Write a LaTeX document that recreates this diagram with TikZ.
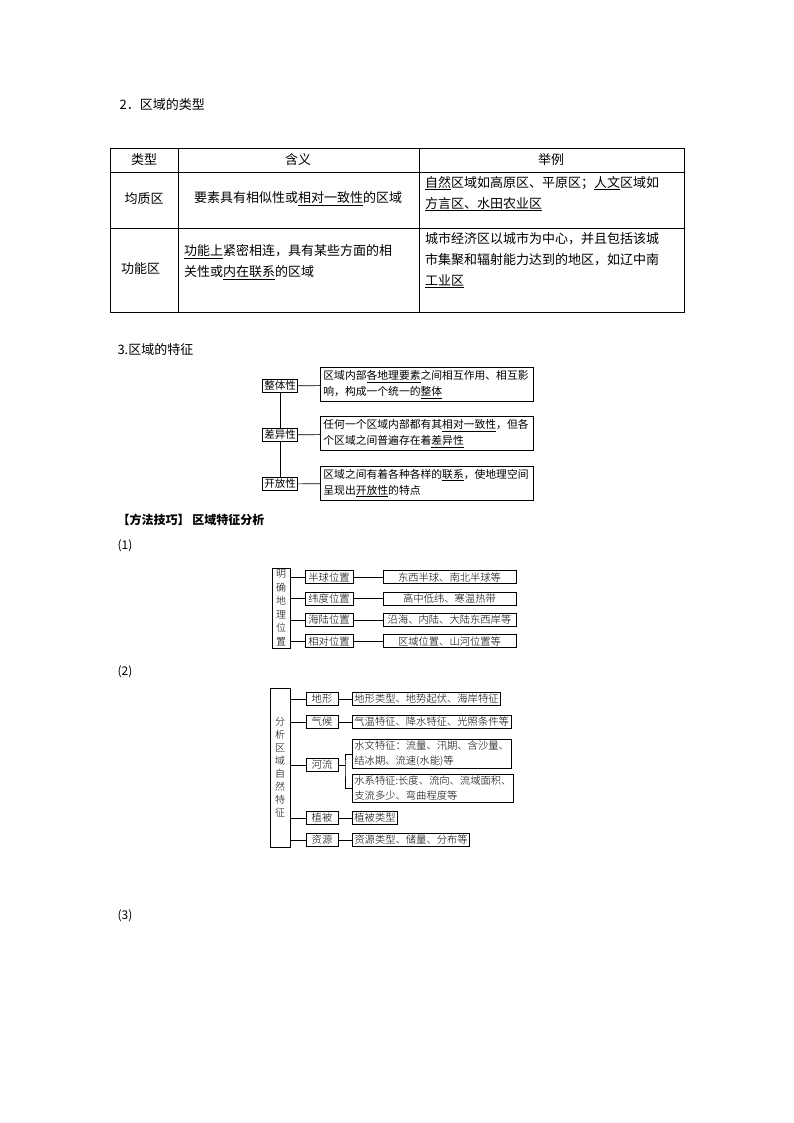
\documentclass[tikz,border=0pt]{standalone}
\usepackage{fontspec}
\setmainfont{Noto Sans CJK SC}
\newfontfamily\songti{Noto Sans CJK SC Light}
\usetikzlibrary{positioning}
\newcommand{\ul}[1]{\underline{#1}}
\tikzset{
    cell/.style={inner sep=0pt, anchor=north west, align=left, font=\fontsize{13}{21}\selectfont},
    kbox/.style={draw=black, line width=0.8pt, inner sep=1.5pt, font=\fontsize{10.5}{14}\selectfont},
    tbox/.style={draw=black, line width=0.8pt, inner sep=3pt, text width=207pt, anchor=west, align=left, font=\fontsize{10.8}{16}\selectfont},
    mbox/.style={draw=black, line width=0.8pt, inner sep=1pt, minimum height=13pt, font=\songti\fontsize{10.3}{12}\selectfont},
    link/.style={draw=black, line width=0.7pt},
}
\begin{document}
\begin{tikzpicture}[x=1pt,y=-1pt]
        \useasboundingbox (0,0) rectangle (794,1123);

        % heading and table
        \node[anchor=west, font=\fontsize{13}{15}\selectfont] (h2) at (116,105) {2．区域的类型};
        \draw [line width=0.8pt] (110,148) rectangle (684,312);
        \foreach \y in {172,228} {
            \draw [line width=0.6pt] (110,\y) -- (684,\y);
        }
        \foreach \x in {178,419} {
            \draw [line width=0.6pt] (\x,148) -- (\x,312);
        }
        \node[font=\fontsize{13}{15}\selectfont] (t11) at (144,160) {类型};
        \node[font=\fontsize{13}{15}\selectfont] (t12) at (298,160) {含义};
        \node[font=\fontsize{13}{15}\selectfont] (t13) at (551,160) {举例};
        \node[font=\fontsize{13}{15}\selectfont] (t21) at (144,199) {均质区};
        \node[font=\fontsize{13}{15}\selectfont] (t22) at (298,199) {要素具有相似性或\ul{相对一致性}的区域};
        \node[cell] (t23) at (425,176) {\ul{自然}区域如高原区、平原区；\ul{人文}区域如\\\ul{方言区、水田农业区}};
        \node[cell] (t31) at (121,262) {功能区};
        \node[cell] (t32) at (184,244) {\ul{功能上}紧密相连，具有某些方面的相\\关性或\ul{内在联系}的区域};
        \node[cell] (t33) at (425,232) {城市经济区以城市为中心，并且包括该城\\市集聚和辐射能力达到的地区，如辽中南\\\ul{工业区}};

        % 3. region features
        \node[anchor=west, font=\fontsize{13}{15}\selectfont] (h3) at (114,350) {3.区域的特征};
        \node[kbox] (zt) at (280,386) {整体性};
        \node[kbox] (cy) at (280,435) {差异性};
        \node[kbox] (kf) at (280,484) {开放性};
        \node[tbox] (ztx) at (320,384.5) {区域内部\ul{各地理要素}之间相互作用、相互影\\响，构成一个统一的\ul{整体}};
        \node[tbox] (cyx) at (320,433.5) {任何一个区域内部都有其\ul{相对一致性}，但各\\个区域之间普遍存在着\ul{差异性}};
        \node[tbox] (kfx) at (320,483) {区域之间有着各种各样的\ul{联系}，使地理空间\\呈现出\ul{开放性}的特点};
        \draw [link] (zt) -- (cy) -- (kf);
        \foreach \a in {zt,cy,kf} {
            \draw [link] (\a) -- (\a x);
        }

        % method
        \node[anchor=west, font=\bfseries\fontsize{12}{14}\selectfont] (h4) at (114,520) {【方法技巧】 区域特征分析};
        \node[anchor=west, font=\fontsize{12}{14}\selectfont] (n1) at (114,546) {(1)};

        % diagram (1)
        \node[draw=black, line width=0.8pt, minimum width=18pt, minimum height=80pt, inner sep=0pt, align=center, font=\songti\fontsize{10}{13.5}\selectfont] (wz) at (281,608) {明\\确\\地\\理\\位\\置};
        \foreach \i/\a/\b in {1/半球位置/东西半球、南北半球等,2/纬度位置/高中低纬、寒温热带,3/海陆位置/沿海、内陆、大陆东西岸等,4/相对位置/区域位置、山河位置等} {
            \node[mbox, minimum width=48pt] (m\i) at (329,556+21.3*\i) {\a};
            \node[mbox, minimum width=133pt] (r\i) at (449.5,556+21.3*\i) {\b};
            \draw [link] (wz.east |- m\i) -- (m\i);
            \draw [link] (m\i) -- (r\i);
        }

        \node[anchor=west, font=\fontsize{12}{14}\selectfont] (n2) at (114,672) {(2)};

        % diagram (2)
        \node[draw=black, line width=0.8pt, minimum width=20pt, minimum height=159pt, inner sep=0pt, align=center, font=\songti\fontsize{10}{13}\selectfont] (zr) at (280,767.5) {分\\析\\区\\域\\自\\然\\特\\征};
        \node[mbox, minimum width=32pt] (dx) at (322,699) {地形};
        \node[mbox, minimum width=32pt] (qh) at (322,722) {气候};
        \node[mbox, minimum width=32pt] (hl) at (322,765) {河流};
        \node[mbox, minimum width=32pt] (zb) at (322,818) {植被};
        \node[mbox, minimum width=32pt] (zy) at (322,840) {资源};
        \node[mbox, anchor=west, inner sep=2pt] (dxr) at (352,699) {地形类型、地势起伏、海岸特征};
        \node[mbox, anchor=west, inner sep=2pt] (qhr) at (352,722) {气温特征、降水特征、光照条件等};
        \node[mbox, anchor=west, inner sep=2pt, align=left, font=\songti\fontsize{10.3}{15}\selectfont] (sw) at (352,754) {水文特征：流量、汛期、含沙量、\\结冰期、流速(水能)等};
        \node[mbox, anchor=west, inner sep=2pt, align=left, font=\songti\fontsize{10.3}{15}\selectfont] (sx) at (352,788.5) {水系特征:长度、流向、流域面积、\\支流多少、弯曲程度等};
        \node[mbox, anchor=west, inner sep=2pt] (zbr) at (352,818) {植被类型};
        \node[mbox, anchor=west, inner sep=2pt] (zyr) at (352,840) {资源类型、储量、分布等};
        \foreach \a in {dx,qh,hl,zb,zy} {
            \draw [link] (zr.east |- \a) -- (\a);
        }
        \foreach \a in {dx,qh,zb,zy} {
            \draw [link] (\a) -- (\a r);
        }
        \coordinate (br) at (345,765);
        \draw [link] (hl) -- (br);
        \draw [link] (sw.west) -| (br) |- (sx.west);

        \node[anchor=west, font=\fontsize{12}{14}\selectfont] (n3) at (114,916) {(3)};
\end{tikzpicture}
\end{document}
